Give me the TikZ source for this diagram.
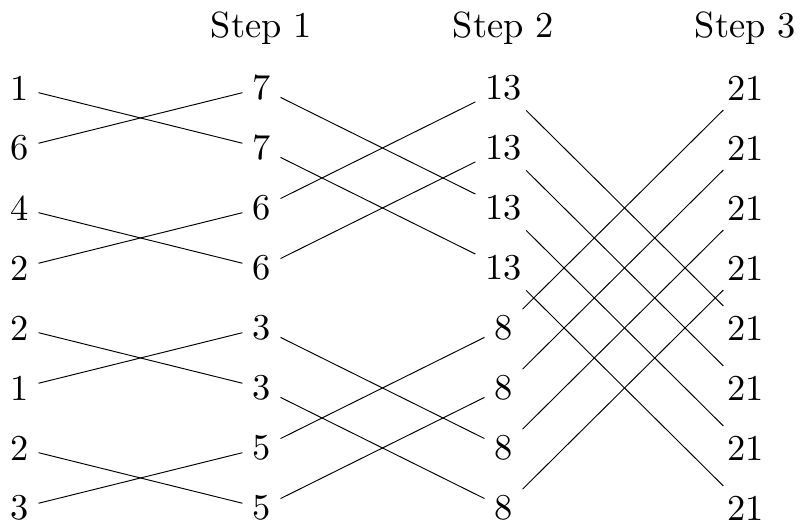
\documentclass[tikz,border=0pt]{standalone}
\newcommand{\bigtxt}[1]{\scalebox{1.728}{#1}}
\begin{document}
\begin{tikzpicture}[
  num/.style={inner sep=4.5pt},
  head/.style={anchor=base, inner sep=0pt},
  wire/.style={line width=0.45pt}
]
\useasboundingbox (0,0) rectangle (13.333,8.783);
% headers
\node[head] (h1) at (4.358,8.15) {\bigtxt{Step 1}};
\node[head] (h2) at (8.392,8.15) {\bigtxt{Step 2}};
\node[head] (h3) at (12.425,8.15) {\bigtxt{Step 3}};
% column 0
\foreach \v [count=\k from 0] in {1,6,4,2,2,1,2,3}
  \node[num] (a\k) at (0.325,7.317-\k) {\bigtxt{\v}};
% column 1
\foreach \v [count=\k from 0] in {7,7,6,6,3,3,5,5}
  \node[num] (b\k) at (4.358,7.317-\k) {\bigtxt{\v}};
% column 2
\foreach \v [count=\k from 0] in {13,13,13,13,8,8,8,8}
  \node[num] (c\k) at (8.392,7.317-\k) {\bigtxt{\v}};
% column 3
\foreach \v [count=\k from 0] in {21,21,21,21,21,21,21,21}
  \node[num] (d\k) at (12.425,7.317-\k) {\bigtxt{\v}};
% step 1 connections
\foreach \i/\j in {0/1,1/0,2/3,3/2,4/5,5/4,6/7,7/6}
  \draw[wire] (a\i) -- (b\j);
% step 2 connections
\foreach \i/\j in {0/2,1/3,2/0,3/1,4/6,5/7,6/4,7/5}
  \draw[wire] (b\i) -- (c\j);
% step 3 connections
\foreach \i/\j in {0/4,1/5,2/6,3/7,4/0,5/1,6/2,7/3}
  \draw[wire] (c\i) -- (d\j);
\end{tikzpicture}
\end{document}
